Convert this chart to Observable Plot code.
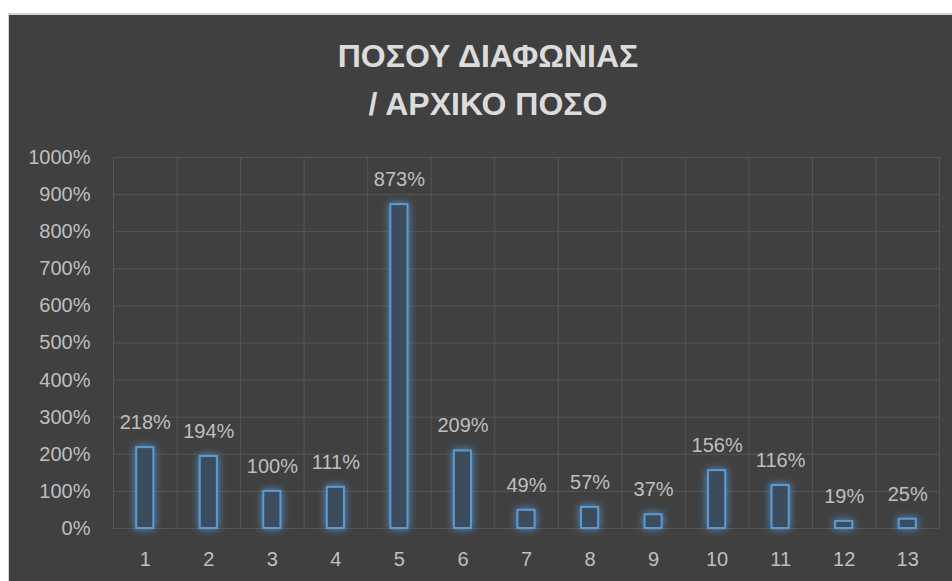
<!DOCTYPE html>
<html>
<head>
<meta charset="utf-8">
<script src="https://cdn.jsdelivr.net/npm/d3@7"></script>
<script src="https://cdn.jsdelivr.net/npm/@observablehq/plot@0.6"></script>
<style>
  html, body { margin: 0; padding: 0; background: #ffffff; width: 952px; height: 581px; overflow: hidden; }
  #frame { position: absolute; left: 8px; top: 13px; width: 960px; height: 580px; background: #404040;
           border-top: 2px solid #d4d4d4; border-left: 1px solid #d4d4d4; box-sizing: border-box; }
  #title { position: absolute; left: 0; top: 32px; width: 976px; text-align: center; color: #dcdcdc;
           font-family: "Liberation Sans", Arial, sans-serif; font-weight: bold;
           font-size: 32px; line-height: 48px; }
  #chart { position: absolute; left: 8px; top: 140px; }
  #chart svg g[aria-label="rect"] rect { filter: drop-shadow(0 0 4px rgba(91,155,213,0.9)); }
</style>
</head>
<body>
<div id="frame"></div>
<div id="title">ΠΟΣΟΥ ΔΙΑΦΩΝΙΑΣ<br>/ ΑΡΧΙΚΟ ΠΟΣΟ</div>
<div id="chart"></div>
<script>
const categories = [1, 2, 3, 4, 5, 6, 7, 8, 9, 10, 11, 12, 13];
const values = [218, 194, 100, 111, 873, 209, 49, 57, 37, 156, 116, 19, 25];
const yTicks = [0, 100, 200, 300, 400, 500, 600, 700, 800, 900, 1000];

const data = categories.map((c, i) => ({cat: c, value: values[i]}));
const boundaries = [categories[0] - 0.5, ...categories.map(c => c + 0.5)];
const half = 0.135;

const chart = Plot.plot({
  width: 944,
  height: 441,
  marginTop: 17,
  marginBottom: 53,
  marginLeft: 105,
  marginRight: 13,
  style: {background: "transparent", color: "#bfbfbf", fontFamily: "'Liberation Sans', Arial, sans-serif", fontSize: "20px"},
  x: {domain: [boundaries[0], boundaries[boundaries.length - 1]], ticks: categories, tickFormat: d => String(d), tickSize: 0, tickPadding: 23, label: null},
  y: {domain: [0, 1000], ticks: yTicks, tickFormat: d => d + "%", tickSize: 0, tickPadding: 23, label: null},
  marks: [
    Plot.ruleY(yTicks, {stroke: "#555555", strokeWidth: 1, strokeOpacity: 1}),
    Plot.ruleX(boundaries, {y1: 0, y2: 1000, stroke: "#555555", strokeWidth: 1, strokeOpacity: 1}),
    Plot.rectY(data, {x1: d => d.cat - half, x2: d => d.cat + half, y1: 0, y2: "value",
      fill: "#3d4c5c", stroke: "#5b9bd5", strokeWidth: 2}),
    Plot.text(data, {x: "cat", y: "value", text: d => d.value + "%", dy: -25, fill: "#bfbfbf", fontSize: 20})
  ]
});
document.getElementById("chart").appendChild(chart);
</script>
</body>
</html>
